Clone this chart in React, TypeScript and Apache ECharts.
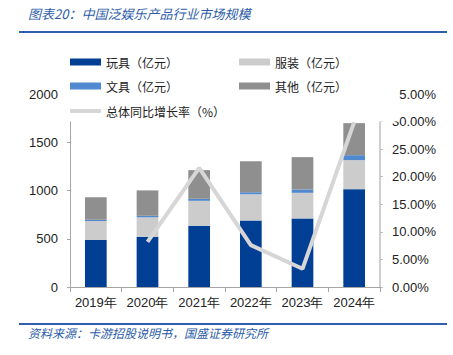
import React, { useEffect, useRef } from "react";
import * as echarts from "echarts";

const categories = ["2019年", "2020年", "2021年", "2022年", "2023年", "2024年"];
const toys = [487, 521, 635, 690, 711, 1014];
const apparel = [196, 201, 258, 270, 265, 301];
const stationery = [14, 16, 21, 23, 35, 51];
const others = [232, 263, 297, 321, 335, 332];
const growth: (number | null)[] = [null, 8.2, 21.6, 7.6, 3.3, 29.9];

const seriesNames = ["玩具（亿元）", "服装（亿元）", "文具（亿元）", "其他（亿元）", "总体同比增长率（%）"];
const colors = ["#003f94", "#cccccc", "#5089cf", "#8f8f8f", "#d6d6d6"];

const titleText = "图表20：中国泛娱乐产品行业市场规模";
const sourceText = "资料来源：卡游招股说明书，国盛证券研究所";

const FONT = "'Liberation Sans', Arial, sans-serif";
const CJK = "'Noto Sans CJK SC', sans-serif";

export default function App() {
  const ref = useRef<HTMLDivElement>(null);
  useEffect(() => {
    if (!ref.current) return;
    const chart = echarts.init(ref.current, undefined, { renderer: "svg" });
    const barSeries = [toys, apparel, stationery, others].map((d, i) => ({
      name: seriesNames[i],
      type: "bar",
      stack: "total",
      data: d,
      barWidth: "42%",
      itemStyle: { color: colors[i] },
      z: 2,
    }));
    const legendCommon = {
      itemWidth: 31,
      itemHeight: 7,
      itemGap: 61,
      icon: "rect",
      z: 200,
      textStyle: { fontFamily: CJK, fontSize: 12, color: "#222" },
    };
    chart.setOption({
      animation: false,
      color: colors,
      grid: { left: 70, right: 73, top: 94, bottom: 68 },
      legend: [
        { ...legendCommon, left: 65, top: 51, data: [seriesNames[0], seriesNames[1]] },
        { ...legendCommon, left: 65, top: 75, data: [seriesNames[2], seriesNames[3]] },
        {
          ...legendCommon,
          icon: "roundRect",
          left: 65,
          top: 100,
          itemHeight: 4,
          data: [seriesNames[4]],
        },
      ],
      xAxis: {
        type: "category",
        data: categories,
        axisLine: { lineStyle: { color: "#a6a6a6" } },
        axisTick: { show: true, length: 5, lineStyle: { color: "#a6a6a6" } },
        axisLabel: { interval: 0, fontFamily: FONT, fontSize: 13, color: "#222", margin: 9 },
      },
      yAxis: [
        {
          type: "value",
          min: 0,
          max: 2000,
          interval: 500,
          axisLine: { show: true, lineStyle: { color: "#a6a6a6" } },
          axisTick: { show: true, length: 3, lineStyle: { color: "#a6a6a6" } },
          splitLine: { show: false },
          axisLabel: {
            fontFamily: FONT,
            fontSize: 13,
            color: "#222",
            margin: 12,
            formatter: (v: number) => String(v),
          },
        },
        {
          type: "value",
          min: 0,
          max: 35,
          interval: 5,
          position: "right",
          axisLine: { show: true, lineStyle: { color: "#bfbfbf", width: 1.5 } },
          axisTick: { show: true, length: 3, lineStyle: { color: "#bfbfbf" } },
          splitLine: { show: false },
          axisLabel: {
            fontFamily: FONT,
            fontSize: 13,
            color: "#222",
            margin: 12,
            formatter: (v: number) => v.toFixed(2) + "%",
          },
        },
      ],
      series: [
        ...barSeries,
        {
          name: seriesNames[4],
          type: "line",
          yAxisIndex: 1,
          data: growth,
          symbol: "none",
          connectNulls: false,
          lineStyle: { color: colors[4], width: 4 },
          itemStyle: { color: colors[4] },
          z: 5,
        },
      ],
      graphic: [
        {
          type: "rect",
          z: 100,
          shape: { x: 62, y: 40, width: 337, height: 81.5 },
          style: { fill: "#ffffff" },
        },
        {
          type: "text",
          z: 101,
          left: 28,
          top: 7,
          style: {
            text: titleText,
            fill: "#2d5da8",
            font: "italic 13px 'Noto Sans CJK SC', sans-serif",
          },
        },
        {
          type: "line",
          z: 101,
          shape: { x1: 19, y1: 32, x2: 447, y2: 32 },
          style: { stroke: "#2f5fad", lineWidth: 2 },
        },
        {
          type: "line",
          z: 101,
          shape: { x1: 19, y1: 324, x2: 447, y2: 324 },
          style: { stroke: "#2f5fad", lineWidth: 2 },
        },
        {
          type: "text",
          z: 101,
          left: 28,
          top: 326,
          style: {
            text: sourceText,
            fill: "#2d5da8",
            font: "italic 12px 'Noto Sans CJK SC', sans-serif",
          },
        },
      ],
    });
    return () => chart.dispose();
  }, []);
  return (
    <div
      ref={ref}
      style={{ position: "fixed", left: 0, top: 0, width: 453, height: 355, background: "#fff" }}
    />
  );
}
